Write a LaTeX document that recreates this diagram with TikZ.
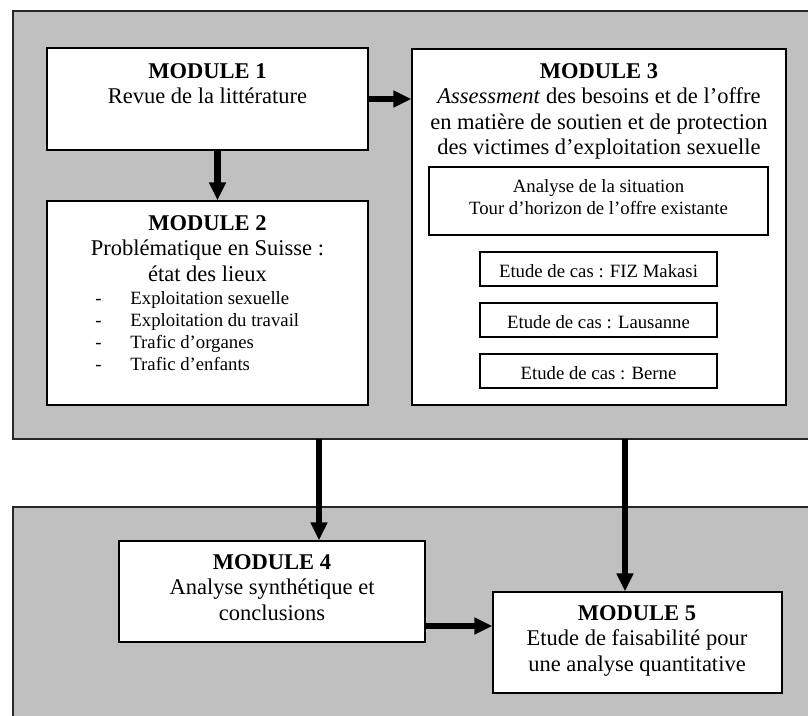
\documentclass[tikz,border=0pt]{standalone}
\usepackage{fontspec}
\setmainfont{Liberation Serif}
\usetikzlibrary{arrows.meta, fit}
\definecolor{panelgray}{HTML}{C0C0C0}

\begin{document}
\begin{tikzpicture}[x=0.5333pt, y=-0.5333pt,
    >={Triangle[length=9.6pt, width=8.5pt]},
    panel/.style={draw=black!85, fill=panelgray, line width=0.6pt},
    box/.style={draw, fill=white, line width=0.6pt, inner sep=0pt},
    txt/.style={anchor=north, inner sep=0pt, align=center, font=\fontsize{12}{13.6}\selectfont},
    subtxt/.style={inner sep=0pt, align=center, font=\fontsize{10}{11.5}\selectfont},
    item/.style={anchor=base west, inner sep=0pt, font=\fontsize{10}{11.5}\selectfont},
    flow/.style={->, line width=3.6pt}]

    \useasboundingbox (0,0) rectangle (808,715);
    \clip (0,0) rectangle (808,715);

    % fonds gris
    \draw[panel] (13,11) rectangle (830,439);
    \draw[panel] (13,507) rectangle (830,740);

    % module 1
    \node[box, fit={(47,48) (368,150)}] (m1) {};
    \node[txt] (t1) at (207.5,63) {\textbf{MODULE 1}\\Revue de la littérature};

    % module 2
    \node[box, fit={(47,201) (368,405)}] (m2) {};
    \node[txt] (t2) at (207.5,215) {\textbf{MODULE 2}\\Problématique en Suisse :\\état des lieux};
    \foreach \t [count=\i] in {Exploitation sexuelle, Exploitation du travail, Trafic d’organes, Trafic d’enfants} {
        \node[item] (it\i) at (95, {304+(\i-1)*22}) {\makebox[18.7pt][l]{-}\t};
    }

    % module 3
    \node[box, fit={(412,49) (786,405)}] (m3) {};
    \node[txt] (t3) at (599,63) {\textbf{MODULE 3}\\\textit{Assessment} des besoins et de l’offre\\en matière de soutien et de protection\\des victimes d’exploitation sexuelle};
    \node[box, fit={(429,167) (768,235)}] (ana) {};
    \node[subtxt, anchor=north] (tana) at (598.5,179.5) {Analyse de la situation\\Tour d’horizon de l’offre existante};
    \foreach \lieu/\y [count=\i] in {FIZ Makasi/252, Lausanne/303, Berne/354} {
        \node[box, fit={(480,\y) (717,{\y+34})}] (cas\i) {};
        \node[subtxt, anchor=base] (tcas\i) at (598.5,{\y+25}) {Etude de cas : \lieu};
    }

    % modules 4 et 5
    \node[box, fit={(119,541) (425,642)}] (m4) {};
    \node[txt] (t4) at (272,554) {\textbf{MODULE 4}\\Analyse synthétique et\\conclusions};
    \node[box, fit={(493,592) (782,693)}] (m5) {};
    \node[txt] (t5) at (637,605) {\textbf{MODULE 5}\\Etude de faisabilité pour\\une analyse quantitative};

    % flèches
    \coordinate (c12) at (217.5,0);
    \coordinate (c4) at (319,439);
    \coordinate (c5) at (625,439);
    \coordinate (c45) at (0,626);
    \draw[flow] (m1.east) -- (m3.west |- m1.east);
    \draw[flow] (m1.south -| c12) -- (m2.north -| c12);
    \draw[flow] (c4) -- (c4 |- m4.north);
    \draw[flow] (c5) -- (c5 |- m5.north);
    \draw[flow] (m4.east |- c45) -- (m5.west |- c45);

\end{tikzpicture}
\end{document}
